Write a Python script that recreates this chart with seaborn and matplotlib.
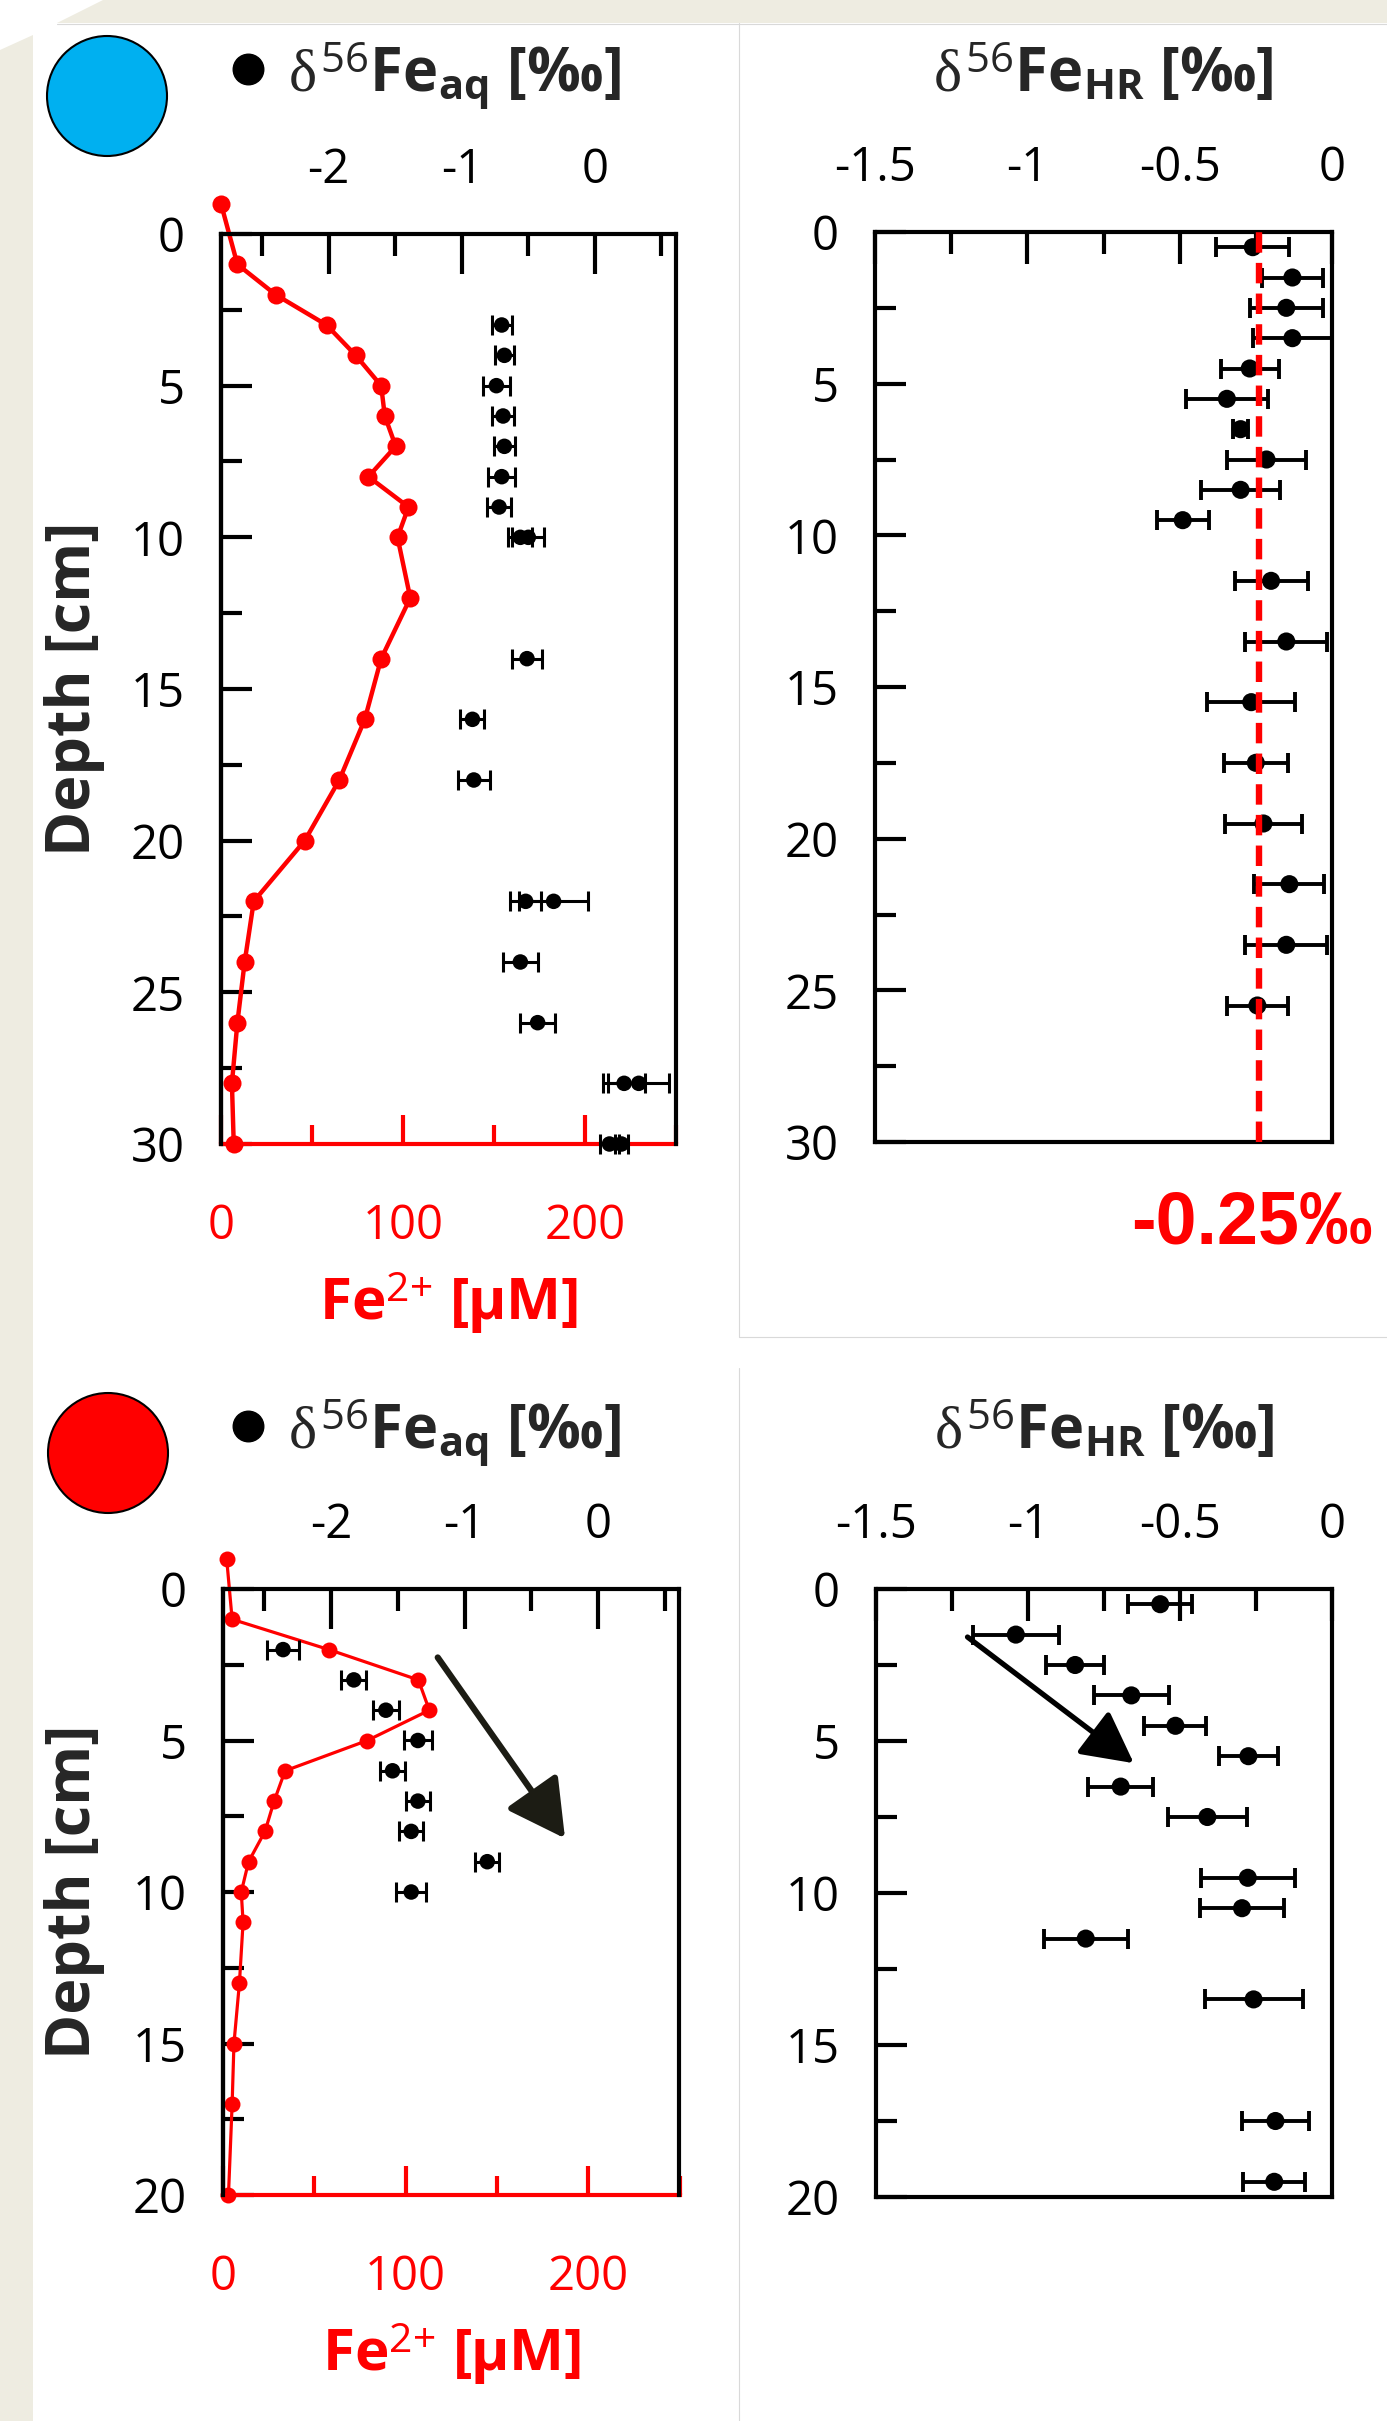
import numpy as np
import matplotlib
matplotlib.use('Agg')
import matplotlib.pyplot as plt
import seaborn as sns
from matplotlib.patches import Polygon, Circle

W, H = 1387, 2421

# ---------------- data: upper core (blue) ----------------
top_fe_depth = [-1, 1, 2, 3, 4, 5, 6, 7, 8, 9, 10, 12, 14, 16, 18, 20, 22, 24, 26, 28, 30]
top_fe = [0, 9, 30, 58, 74, 88, 90, 96, 81, 103, 97, 104, 88, 79, 65, 46, 18, 13, 9, 6, 7]

top_aq_depth = [3, 4, 5, 6, 7, 8, 9, 10, 10, 14, 16, 18, 22, 22, 24, 26, 28, 28, 30, 30]
top_aq = [-0.70, -0.68, -0.74, -0.69, -0.68, -0.70, -0.72, -0.56, -0.50, -0.51,
          -0.92, -0.91, -0.52, -0.31, -0.56, -0.43, 0.22, 0.33, 0.11, 0.20]
top_aq_err = [0.075, 0.07, 0.10, 0.08, 0.08, 0.10, 0.09, 0.09, 0.12, 0.11,
              0.09, 0.12, 0.115, 0.26, 0.13, 0.13, 0.16, 0.23, 0.07, 0.05]

top_hr_depth = [0.5, 1.5, 2.5, 3.5, 4.5, 5.5, 6.5, 7.5, 8.5, 9.5, 11.5, 13.5,
                15.5, 17.5, 19.5, 21.5, 23.5, 25.5]
top_hr = [-0.26, -0.13, -0.15, -0.13, -0.27, -0.345, -0.30, -0.215, -0.30, -0.49,
          -0.20, -0.15, -0.265, -0.25, -0.225, -0.14, -0.15, -0.245]
top_hr_err = [0.12, 0.10, 0.12, 0.13, 0.095, 0.135, 0.025, 0.13, 0.13, 0.085,
              0.12, 0.135, 0.145, 0.105, 0.125, 0.115, 0.135, 0.10]
hr_mean = -0.24
hr_mean_label = '-0.25‰'

# ---------------- data: lower core (red) ----------------
bot_fe_depth = [-1, 1, 2, 3, 4, 5, 6, 7, 8, 9, 10, 11, 13, 15, 17, 20]
bot_fe = [2, 5, 58, 107, 113, 79, 34, 28, 23, 14, 10, 11, 9, 6, 5, 3]

bot_aq_depth = [2, 3, 4, 5, 6, 7, 8, 9, 10]
bot_aq = [-2.36, -1.83, -1.59, -1.35, -1.54, -1.35, -1.40, -0.83, -1.40]
bot_aq_err = [0.12, 0.095, 0.097, 0.104, 0.095, 0.092, 0.092, 0.089, 0.114]

bot_hr_depth = [0.5, 1.5, 2.5, 3.5, 4.5, 5.5, 6.5, 7.5, 9.5, 10.5, 11.5, 13.5, 17.5, 19.5]
bot_hr = [-0.565, -1.04, -0.845, -0.66, -0.515, -0.275, -0.695, -0.41,
          -0.277, -0.296, -0.81, -0.258, -0.186, -0.19]
bot_hr_err = [0.106, 0.141, 0.095, 0.124, 0.102, 0.096, 0.107, 0.13,
              0.154, 0.137, 0.139, 0.161, 0.11, 0.102]

# ---------------- ticks ----------------
fe_ticks, fe_labels, fe_minor = [0, 100, 200], ['0', '100', '200'], [50, 150, 250]
aq_ticks, aq_labels, aq_minor = [-2, -1, 0], ['-2', '-1', '0'], [-2.5, -1.5, -0.5, 0.5]
hr_ticks, hr_labels, hr_minor = [-1.5, -1, -0.5, 0], ['-1.5', '-1', '-0.5', '0'], [-1.25, -0.75, -0.25]
top_d_ticks = [0, 5, 10, 15, 20, 25, 30]
top_d_minor = [2.5, 7.5, 12.5, 17.5, 22.5, 27.5]
bot_d_ticks = [0, 5, 10, 15, 20]
bot_d_minor = [2.5, 7.5, 12.5, 17.5]

lab_aq = r'$\delta^{56}\mathbf{Fe}_{\mathbf{aq}}\ \mathbf{[‰]}$'
lab_hr = r'$\delta^{56}\mathbf{Fe}_{\mathbf{HR}}\ \mathbf{[‰]}$'
lab_fe = r'$\mathbf{Fe}^{2{+}}\ \mathbf{[µM]}$'

sns.set_theme(style='white')
plt.rcParams['font.family'] = ['Open Sans', 'DejaVu Sans']
plt.rcParams['mathtext.fontset'] = 'custom'
plt.rcParams['mathtext.rm'] = 'Open Sans'
plt.rcParams['mathtext.bf'] = 'Open Sans:bold'
plt.rcParams['mathtext.it'] = 'Liberation Serif'
plt.rcParams['axes.unicode_minus'] = False

fig = plt.figure(figsize=(W / 100, H / 100), dpi=100, facecolor='white')


def rect(x0, y0, x1, y1):
    return [x0 / W, 1 - y1 / H, (x1 - x0) / W, (y1 - y0) / H]


def fxy(x, y):
    return x / W, 1 - y / H


# background (slide-like frame)
bg = fig.add_axes([0, 0, 1, 1], zorder=-5)
bg.set_xlim(0, W)
bg.set_ylim(H, 0)
bg.axis('off')
beige = '#EEECE1'
grey = '#d9d9d9'
bg.add_patch(Polygon([(103, 0), (W, 0), (W, 23), (57, 23)], fc=beige, ec='none'))
bg.add_patch(Polygon([(0, 50), (33, 35), (33, H), (0, H)], fc=beige, ec='none'))
bg.plot([57, W], [23.5, 23.5], color=grey, lw=0.8)
bg.plot([738.6, 738.6], [23, 1337], color=grey, lw=0.8)
bg.plot([738.6, W], [1337, 1337], color=grey, lw=0.8)
bg.plot([738.6, 738.6], [1368, H], color=grey, lw=0.8)
bg.add_patch(Circle((107, 96), 60, fc='#00B0F0', ec='black', lw=1.5))
bg.add_patch(Circle((108, 1453), 60, fc='#FF0000', ec='black', lw=1.5))


def style_depth(ax, ticks, minor):
    ax.set_yticks(ticks, labels=[str(t) for t in ticks])
    ax.set_yticks(minor, minor=True)
    ax.tick_params(axis='y', which='both', direction='in', left=True, right=False,
                   width=3, colors='black', labelsize=34, pad=26)
    ax.tick_params(axis='y', which='major', length=22)
    ax.tick_params(axis='y', which='minor', length=15)


def iso_panel(r, fe_depth, fe, aq_depth, aq, aq_err, dmax, d_ticks, d_minor,
              red_lw, red_ms, dy):
    ax_fe = fig.add_axes(rect(*r))
    sns.lineplot(x=fe, y=fe_depth, orient='y', sort=False, estimator=None,
                 color='#FF0000', marker='o', markersize=red_ms, markeredgewidth=0,
                 linewidth=red_lw, ax=ax_fe)
    for ln in ax_fe.lines:
        ln.set_clip_on(False)
    ax_fe.set_xlim(0, 250)
    ax_fe.set_xticks(fe_ticks, labels=fe_labels)
    ax_fe.set_xticks(fe_minor, minor=True)
    ax_fe.tick_params(axis='x', which='both', direction='in', bottom=True, top=False,
                      width=3, colors='#FF0000', labelsize=34, pad=42)
    ax_fe.tick_params(axis='x', which='major', length=21)
    ax_fe.tick_params(axis='x', which='minor', length=13.5)
    style_depth(ax_fe, d_ticks, d_minor)
    for s in ['top', 'right']:
        ax_fe.spines[s].set_visible(False)
    ax_fe.spines['left'].set_color('black')
    ax_fe.spines['left'].set_linewidth(3)
    ax_fe.spines['bottom'].set_color('#FF0000')
    ax_fe.spines['bottom'].set_linewidth(3)
    ax_fe.set_xlabel('')
    ax_fe.set_ylabel('')

    ax_iso = ax_fe.twiny()
    ax_iso.errorbar(aq, aq_depth, xerr=aq_err, fmt='none', ecolor='black',
                    elinewidth=2.2, capsize=7, capthick=2.2, clip_on=False, zorder=3)
    sns.scatterplot(x=aq, y=aq_depth, color='black', s=125, edgecolor='none',
                    ax=ax_iso, zorder=4, clip_on=False)
    ax_iso.set_xlim(-2.81, 0.61)
    ax_iso.set_xticks(aq_ticks, labels=aq_labels)
    ax_iso.set_xticks(aq_minor, minor=True)
    ax_iso.tick_params(axis='x', which='both', direction='in', top=True, bottom=False,
                       width=3, colors='black', labelsize=34, pad=29)
    ax_iso.tick_params(axis='x', which='major', length=29)
    ax_iso.tick_params(axis='x', which='minor', length=16)
    ax_iso.spines['bottom'].set_visible(False)
    for s in ['top', 'left', 'right']:
        ax_iso.spines[s].set_color('black')
        ax_iso.spines[s].set_linewidth(3)
    ax_iso.set_xlabel('')
    ax_fe.set_ylim(dmax, 0)

    # labels
    fig.text(*fxy(75, (r[1] + r[3]) / 2), 'Depth [cm]', rotation=90, fontsize=44,
             fontweight='bold', ha='center', va='center')
    fig.text(*fxy((r[0] + r[2]) / 2, r[3] + 159), lab_fe, color='#FF0000',
             fontsize=42, ha='center', va='center')
    bg.plot(248, 69 + dy, 'o', ms=22, color='black')
    fig.text(*fxy(288, 92 + dy), lab_aq, fontsize=43, ha='left', va='baseline')
    return ax_fe, ax_iso


def hr_panel(r, depth, hr, err, dmax, d_ticks, d_minor, dy):
    ax = fig.add_axes(rect(*r))
    ax.errorbar(hr, depth, xerr=err, fmt='none', ecolor='black', elinewidth=2.8,
                capsize=7.5, capthick=2.8, clip_on=False, zorder=3)
    sns.scatterplot(x=hr, y=depth, color='black', s=170, edgecolor='none', ax=ax,
                    zorder=4, clip_on=False)
    ax.set_xlim(-1.5, 0)
    ax.set_ylim(dmax, 0)
    ax.xaxis.tick_top()
    ax.set_xticks(hr_ticks, labels=hr_labels)
    ax.set_xticks(hr_minor, minor=True)
    ax.tick_params(axis='x', which='both', direction='in', top=True, bottom=False,
                   width=3, colors='black', labelsize=34, pad=29)
    ax.tick_params(axis='x', which='major', length=23)
    ax.tick_params(axis='x', which='minor', length=16)
    style_depth(ax, d_ticks, d_minor)
    for s in ax.spines.values():
        s.set_color('black')
        s.set_linewidth(3)
    ax.set_xlabel('')
    ax.set_ylabel('')
    fig.text(*fxy((r[0] + r[2]) / 2, 92 + dy), lab_hr, fontsize=43,
             ha='center', va='baseline')
    return ax


# upper core
iso_panel((221, 234, 676, 1144), top_fe_depth, top_fe, top_aq_depth, top_aq, top_aq_err,
          30, top_d_ticks, top_d_minor, 3.2, 13, 0)
ax_tr = hr_panel((875, 232, 1332, 1142), top_hr_depth, top_hr, top_hr_err, 30,
                 top_d_ticks, top_d_minor, 0)
ax_tr.axvline(hr_mean, color='#FF0000', lw=4.6, ls=(0, (3.2, 1.6)), zorder=5,
              clip_on=False)
fig.text(*fxy(1252, 1224), hr_mean_label, color='#FF0000', fontsize=53,
         family='Liberation Sans', fontweight='bold', ha='center', va='center')

# lower core
ax_bl, _ = iso_panel((223, 1589, 679.5, 2195), bot_fe_depth, bot_fe, bot_aq_depth, bot_aq,
                     bot_aq_err, 20, bot_d_ticks, bot_d_minor, 2.3, 11.5, 1357)
ax_bl.annotate('', xy=(187.3, 8.23), xytext=(117.6, 2.26),
               arrowprops=dict(arrowstyle='-|>,head_length=1.1,head_width=0.6',
                               mutation_scale=32, lw=4.5, color='#1c1c14',
                               shrinkA=0, shrinkB=0))
ax_br = hr_panel((876, 1589, 1332, 2197), bot_hr_depth, bot_hr, bot_hr_err, 20,
                 bot_d_ticks, bot_d_minor, 1357)
ax_br.annotate('', xy=(-0.652, 5.73), xytext=(-1.199, 1.58),
               arrowprops=dict(arrowstyle='-|>,head_length=1.05,head_width=0.55',
                               mutation_scale=30, lw=3.8, color='black',
                               shrinkA=0, shrinkB=0))

fig.savefig('out.png', dpi=100, facecolor='white')
